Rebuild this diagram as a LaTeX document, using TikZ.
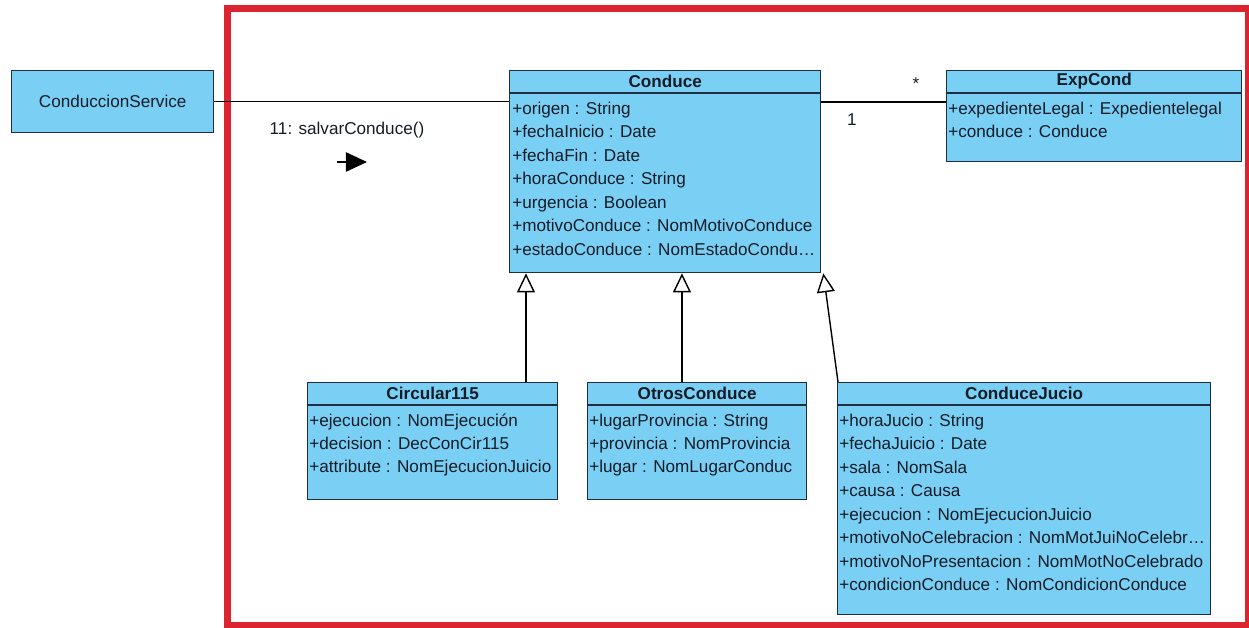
\documentclass[tikz,border=0pt]{standalone}
\usepackage{fontspec}
\setmainfont{Liberation Sans}
\usepackage{xcolor}
\usepackage{tikz}
\usetikzlibrary{arrows.meta,positioning}
\definecolor{clsbg}{HTML}{7ACFF5}
\definecolor{clsline}{HTML}{1E2D3F}
\definecolor{ink}{HTML}{141C26}
\definecolor{redline}{HTML}{DC2430}
\newcommand{\umlfont}{\fontsize{9.75pt}{11pt}\selectfont}
\tikzset{
  cls/.style={draw=clsline, fill=clsbg, line width=0.8pt, inner sep=0pt, anchor=north west},
  sep/.style={draw=clsline, line width=0.8pt},
  hdr/.style={text=ink, font=\umlfont\bfseries, inner sep=0pt},
  attr/.style={text=ink, font=\umlfont, anchor=west, inner sep=0pt, text height=7pt, text depth=2pt},
  lab/.style={text=ink, font=\umlfont, inner sep=0pt},
  link/.style={draw=black, line width=0.8pt},
  gen/.style={draw=black, line width=0.8pt, -{Triangle[open, length=10.8pt, width=10.2pt]}},
  msgarrow/.style={draw=black, line width=0.8pt, -{Triangle[length=12pt, width=11pt]}},
  border/.style={draw=redline, line width=4pt},
}

\begin{document}
\begin{tikzpicture}[x=0.02cm, y=-0.02cm]
\useasboundingbox (0,0) rectangle (1249,628);
\draw[border] (227.5,8.5) rectangle (1249,625.5);

% classes
\node[cls, minimum width=4.04cm, minimum height=1.24cm] (service) at (11,70) {};
\node[lab] (service-h) at (service.center) {ConduccionService};

\node[cls, minimum width=6.22cm, minimum height=4.04cm] (conduce) at (509,70) {};
\draw[sep] ([yshift=-0.46cm]conduce.north west) -- ([yshift=-0.46cm]conduce.north east);
\node[hdr] (conduce-h) at ([yshift=-0.23cm]conduce.north) {Conduce};
\foreach \t [count=\i] in {+origen : String, +fechaInicio : Date, +fechaFin : Date,
  +horaConduce : String, +urgencia : Boolean, +motivoConduce : NomMotivoConduce,
  {+estadoConduce : NomEstadoCondu\ldots}}
  \node[attr] (conduce-a\i) at (512,{110+23.5*(\i-1)}) {\t};

\node[cls, minimum width=5.90cm, minimum height=1.82cm] (expcond) at (946,70) {};
\draw[sep] ([yshift=-0.46cm]expcond.north west) -- ([yshift=-0.46cm]expcond.north east);
\node[hdr] (expcond-h) at ([yshift=-0.23cm]expcond.north) {ExpCond};
\foreach \t [count=\i] in {+expedienteLegal : Expedientelegal, +conduce : Conduce}
  \node[attr] (expcond-a\i) at (948,{110+23.5*(\i-1)}) {\t};

\node[cls, minimum width=5.00cm, minimum height=2.34cm] (circ) at (307,382) {};
\draw[sep] ([yshift=-0.46cm]circ.north west) -- ([yshift=-0.46cm]circ.north east);
\node[hdr] (circ-h) at ([yshift=-0.23cm]circ.north) {Circular115};
\foreach \t [count=\i] in {+ejecucion : NomEjecución, +decision : DecConCir115,
  +attribute : NomEjecucionJuicio}
  \node[attr] (circ-a\i) at (309,{422+23*(\i-1)}) {\t};

\node[cls, minimum width=4.38cm, minimum height=2.34cm] (otros) at (587,382) {};
\draw[sep] ([yshift=-0.46cm]otros.north west) -- ([yshift=-0.46cm]otros.north east);
\node[hdr] (otros-h) at ([yshift=-0.23cm]otros.north) {OtrosConduce};
\foreach \t [count=\i] in {+lugarProvincia : String, +provincia : NomProvincia,
  +lugar : NomLugarConduc}
  \node[attr] (otros-a\i) at (589,{422+23*(\i-1)}) {\t};

\node[cls, minimum width=7.46cm, minimum height=4.64cm] (jucio) at (837,382) {};
\draw[sep] ([yshift=-0.46cm]jucio.north west) -- ([yshift=-0.46cm]jucio.north east);
\node[hdr] (jucio-h) at ([yshift=-0.23cm]jucio.north) {ConduceJucio};
\foreach \t [count=\i] in {+horaJucio : String, +fechaJuicio : Date, +sala : NomSala,
  +causa : Causa, +ejecucion : NomEjecucionJuicio,
  {+motivoNoCelebracion : NomMotJuiNoCelebr\ldots},
  +motivoNoPresentacion : NomMotNoCelebrado,
  +condicionConduce : NomCondicionConduce}
  \node[attr] (jucio-a\i) at (839,{422+23.5*(\i-1)}) {\t};

% links
\draw[link] (service.east) -- (service.east -| conduce.west);
\node[lab] (msg) at (347,130) {11: salvarConduce()};
\coordinate (msgtail) at (337,162);
\coordinate (msghead) at (367,162);
\draw[msgarrow] (msgtail) -- (msghead);

\draw[link] ([yshift=-0.64cm]conduce.north east) -- ([yshift=-0.64cm]expcond.north west);
\node[lab] (mult-one) at (852,120) {1};
\node[lab] (mult-many) at (916,84) {*};

% generalisations
\coordinate (g1) at ([xshift=0.34cm]conduce.south west);
\coordinate (g2) at ([xshift=3.46cm]conduce.south west);
\coordinate (g3) at ([xshift=0.04cm]conduce.south east);
\draw[gen] (g1 |- circ.north) -- (g1);
\draw[gen] (g2 |- otros.north) -- (g2);
\draw[gen] ([xshift=0.02cm]jucio.north west) -- (g3);
\end{tikzpicture}
\end{document}
